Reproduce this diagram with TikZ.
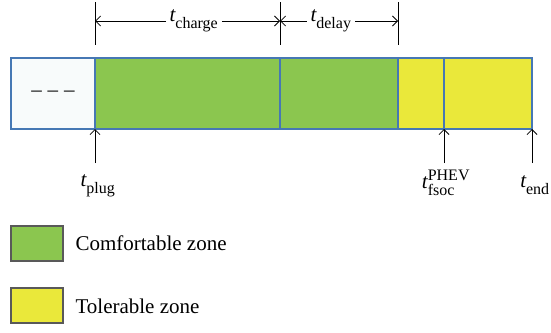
\RequirePackage{fix-cm}
\documentclass[tikz,border=0pt]{standalone}
\usepackage{amsmath}
\usepackage{fontspec}
\setmainfont{Liberation Serif}
\usetikzlibrary{arrows.meta}
\DeclareMathSizes{21}{21}{16}{12}
\definecolor{comfgreen}{RGB}{139,198,79}
\definecolor{tolyellow}{RGB}{234,232,58}
\definecolor{barblue}{RGB}{70,120,180}
\definecolor{pale}{RGB}{248,251,251}
\newcommand{\tlab}[2][]{$\textit{t}^{\text{#1}}_{\text{#2}}$}
\begin{document}
\begin{tikzpicture}[x=1pt,y=-1pt,>={Straight Barb[length=5pt,width=10pt]},
    seg/.style={rectangle,draw=barblue,line width=1.2pt,minimum height=71pt,inner sep=0pt,outer sep=0pt},
    legbox/.style={rectangle,draw=black!65,line width=1.2pt,minimum width=52pt,minimum height=35pt,inner sep=0pt},
    every node/.style={font=\fontsize{21}{25}\selectfont}]
    \useasboundingbox (0,0) rectangle (551,332);

    % the time bar
    \node[seg,fill=pale,minimum width=84pt] at (53,93.5) (s0) {\textendash\;\textendash\;\textendash};
    \node[seg,fill=comfgreen,minimum width=185pt] at (187.5,93.5) (s1) {};
    \node[seg,fill=comfgreen,minimum width=118pt] at (339,93.5) (s2) {};
    \node[seg,fill=tolyellow,minimum width=46pt] at (421,93.5) (s3) {};
    \node[seg,fill=tolyellow,minimum width=88pt] at (488,93.5) (s4) {};

    % durations on top
    \coordinate (a0) at (95,2);
    \coordinate (a1) at (280,2);
    \coordinate (a2) at (398,2);
    \draw[line width=0.8pt] (a0) -- ++(0,43);
    \draw[line width=0.8pt] (a1) -- ++(0,43);
    \draw[line width=0.8pt] (a2) -- ++(0,43);
    \node at (194,21) (charge) {\tlab{charge}};
    \node at (331,21) (delay) {\tlab{delay}};
    \draw[->,line width=0.8pt] (charge.west) -- (charge.west -| a0);
    \draw[->,line width=0.8pt] (charge.east) -- (charge.east -| a1);
    \draw[->,line width=0.8pt] (delay.west) -- (delay.west -| a1);
    \draw[->,line width=0.8pt] (delay.east) -- (delay.east -| a2);

    % instants below
    \node at (98,186) (plug) {\tlab{plug}};
    \node at (446,183) (fsoc) {\tlab[PHEV]{fsoc}};
    \node at (535,185) (end) {\tlab{end}};
    \draw[->,line width=0.8pt] (s1.south west) ++(0,34) -- (s1.south west);
    \draw[->,line width=0.8pt] (s4.south west) ++(0,34) -- (s4.south west);
    \draw[->,line width=0.8pt] (s4.south east) ++(0,34) -- (s4.south east);

    % legend
    \node[legbox,fill=comfgreen] at (37,243.5) (lg) {};
    \node[legbox,fill=tolyellow] at (37,305.5) (ly) {};
    \node[anchor=west] at (72,243) (lgt) {Comfortable zone};
    \node[anchor=west] at (72,306) (lyt) {Tolerable zone};
\end{tikzpicture}
\end{document}
